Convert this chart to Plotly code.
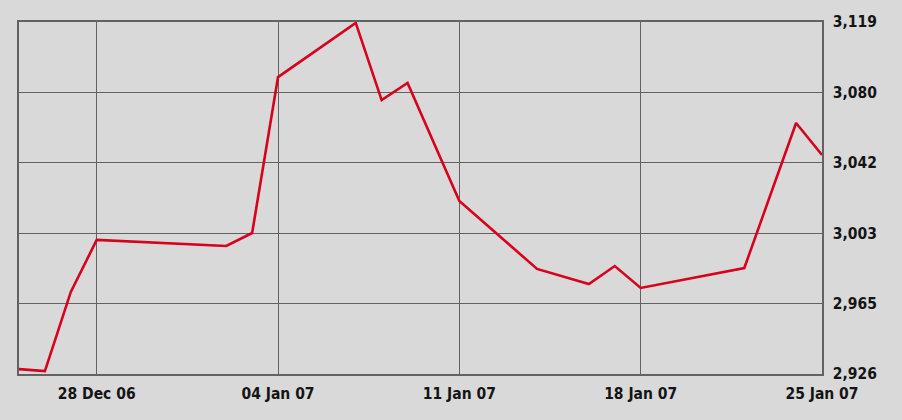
import plotly.graph_objects as go

dates = ["2006-12-25", "2006-12-26", "2006-12-27", "2006-12-28", "2007-01-02",
         "2007-01-03", "2007-01-04", "2007-01-07", "2007-01-08", "2007-01-09",
         "2007-01-11", "2007-01-14", "2007-01-16", "2007-01-17", "2007-01-18",
         "2007-01-22", "2007-01-24", "2007-01-25"]
values = [2928.7, 2927.6, 2971.0, 2999.5, 2996.2,
          3003.3, 3088.8, 3118.5, 3076.2, 3085.6,
          3020.9, 2983.6, 2975.3, 2985.2, 2973.2,
          2984.1, 3063.6, 3046.1]

x_ticks = ["2006-12-28", "2007-01-04", "2007-01-11", "2007-01-18", "2007-01-25"]
x_labels = ["28 Dec 06", "04 Jan 07", "11 Jan 07", "18 Jan 07", "25 Jan 07"]
y_ticks = [2926, 2964.6, 3003.2, 3041.8, 3080.4, 3119]
y_labels = ["2,926", "2,965", "3,003", "3,042", "3,080", "3,119"]

BG = "#d9d9d9"
GRID = "#626262"
FONT = dict(family="Liberation Sans Narrow, DejaVu Sans Condensed, Arial Narrow, sans-serif",
            size=15.5, color="#141414")

fig = go.Figure()
fig.add_trace(go.Scatter(x=dates, y=values, mode="lines",
                         line=dict(color="#d7001d", width=2.6), hoverinfo="x+y"))

fig.update_xaxes(range=["2006-12-25", "2007-01-25"], tickvals=x_ticks, ticktext=x_labels,
                 showgrid=True, gridcolor=GRID, gridwidth=1.3,
                 showline=True, linecolor=GRID, linewidth=1.5, mirror=True,
                 ticks="", ticklabelstandoff=5, zeroline=False,
                 tickfont=dict(FONT, weight="bold"))
fig.update_yaxes(range=[2926, 3119], tickvals=y_ticks, ticktext=y_labels, side="right",
                 showgrid=True, gridcolor=GRID, gridwidth=1.3,
                 showline=True, linecolor=GRID, linewidth=1.5, mirror=True,
                 ticks="", ticklabelstandoff=6, zeroline=False,
                 tickfont=dict(FONT, weight="bold"))
fig.update_layout(width=902, height=420, paper_bgcolor=BG, plot_bgcolor=BG,
                  margin=dict(l=19, r=80, t=22, b=46), showlegend=False, font=FONT)

# drop the page's default body margin so the chart sits at the window corner
fig.write_html("out.html", config={"displayModeBar": False},
               post_script="document.body.style.margin='0';document.body.style.overflow='hidden';")
